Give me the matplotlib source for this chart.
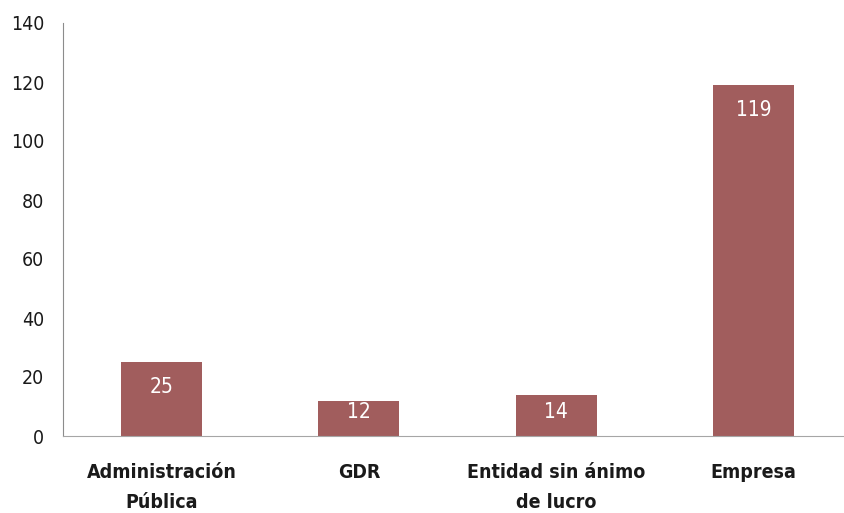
import matplotlib
matplotlib.use("Agg")
import matplotlib.pyplot as plt

categories = ["Administración\nPública", "GDR", "Entidad sin ánimo\nde lucro", "Empresa"]
values = [25, 12, 14, 119]
y_ticks = [0, 20, 40, 60, 80, 100, 120, 140]

BAR_COLOR = "#A15D5D"
TEXT_COLOR = "#1a1a1a"

plt.rcParams["font.family"] = ["DejaVu Sans"]
plt.rcParams["font.stretch"] = "condensed"

fig = plt.figure(figsize=(8.44, 5.13), dpi=100)
ax = fig.add_axes([63 / 844, 77 / 513, 789 / 844, 413 / 513])

x = list(range(len(categories)))
ax.bar(x, values, width=0.41, color=BAR_COLOR, zorder=2)

# value labels inside the bar top, kept clear of the base for short bars
for xi, v in zip(x, values):
    y = max(v - 8.5, 8.2)
    ax.text(xi, y, str(v), ha="center", va="center", color="white",
            fontsize=15, zorder=3)

ax.set_xlim(-0.5, len(categories) - 0.5)
ax.set_ylim(0, 140)
ax.set_yticks(y_ticks)
ax.set_xticks(x)
ax.set_xticklabels(categories, fontsize=14, fontweight="bold",
                   color=TEXT_COLOR, linespacing=1.75)
ax.tick_params(axis="y", length=0, pad=13.5, labelsize=14, labelcolor=TEXT_COLOR)
ax.tick_params(axis="x", length=0, pad=19.5)

for side in ["top", "right"]:
    ax.spines[side].set_visible(False)
ax.spines["left"].set_color("#8c8c8c")
ax.spines["bottom"].set_color("#a6a6a6")

fig.savefig("out.png", dpi=100)
